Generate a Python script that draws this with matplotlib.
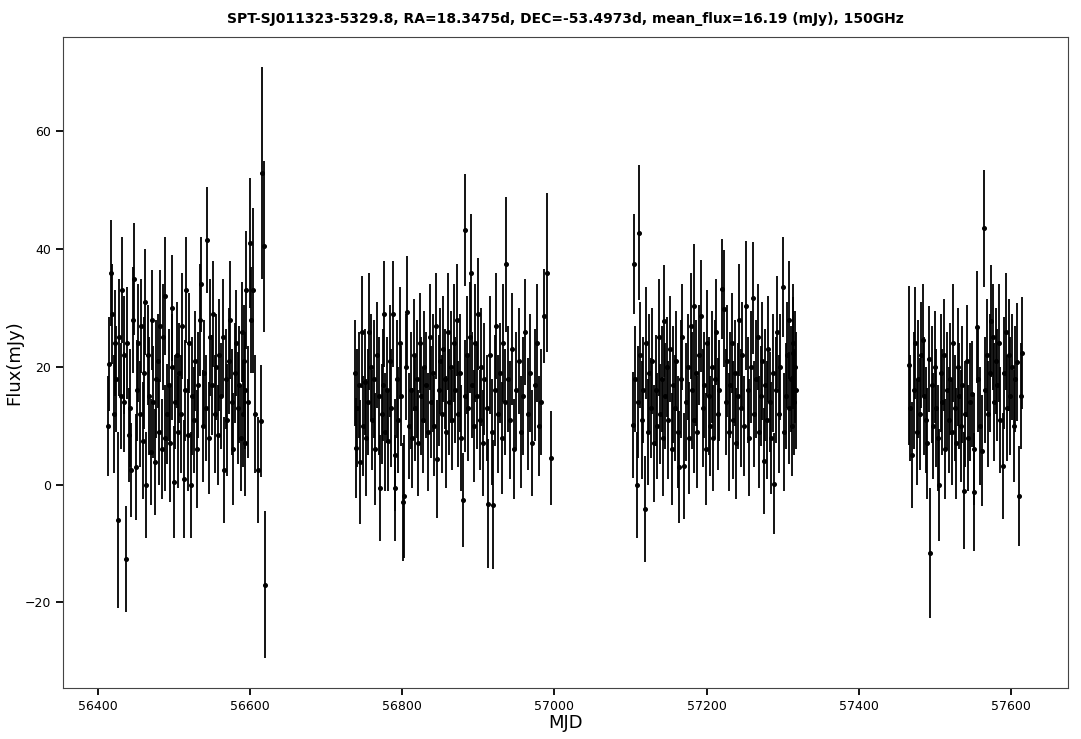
import matplotlib
matplotlib.use('Agg')
import matplotlib.pyplot as plt
import numpy as np

# season 1
mjd1 = [56414, 56415, 56417, 56419, 56421, 56423, 56424, 56426, 56428, 56430,
        56432, 56434, 56435, 56437, 56439, 56441, 56443, 56444, 56446, 56448,
        56450, 56452, 56453, 56455, 56457, 56459, 56461, 56462, 56464, 56466,
        56468, 56470, 56471, 56473, 56475, 56477, 56479, 56480, 56482, 56484,
        56486, 56488, 56489, 56491, 56493, 56495, 56497, 56498, 56500, 56502,
        56504, 56506, 56507, 56509, 56511, 56513, 56515, 56516, 56518, 56520,
        56522, 56524, 56526, 56528, 56530, 56532, 56534, 56536, 56538, 56540,
        56542, 56544, 56546, 56548, 56550, 56552, 56554, 56556, 56558, 56560,
        56562, 56564, 56566, 56568, 56570, 56572, 56574, 56576, 56578, 56580,
        56582, 56584, 56586, 56588, 56589, 56591, 56592, 56593, 56594, 56595,
        56597, 56600, 56602, 56604, 56607, 56611, 56614, 56616, 56618, 56620]
flux1 = [10, 20.5, 36, 29, 12, 24, 18, -6, 25, 15,
         33, 22, 14, -12.6, 24, 8.5, 13, 2.5, 28, 35,
         3, 16, 24, 12, 27, 7.5, 19, 31, 0, 22,
         15, 5.5, 28, 14, 3.8, 18, 21, 9, 27, 6,
         25, 32, 8, 12, 17, 7, 20, 30, 0.5, 14,
         22, 9, 19, 12, 27, 1, 16, 33, 8.5, 24,
         0, 15, 11, 21, 6, 17, 28, 34, 10, 19,
         13, 41.5, 8, 25, 17, 29, 12, 20, 8.5, 22,
         15, 25, 2.5, 18, 11, 21, 28, 14, 6, 19,
         24, 13, 17, 8, 26, 12, 21, 16, 7, 33,
         14, 41, 28, 33, 12, 2.5, 10.8, 53, 40.5, -17]
err1 = [8.5, 8, 9, 8.5, 10, 9, 9, 15, 10, 9,
        9, 10, 8.5, 9, 9.5, 8, 10, 8, 9, 9.5,
        9, 8.5, 10, 9, 8, 10, 9.5, 9, 9, 8.5,
        10, 9, 8.5, 9.5, 9, 10, 8, 9, 9.5, 8.5,
        9, 10, 9, 8.5, 9.5, 10, 9, 9, 9.5, 8,
        9, 9.5, 8.5, 10, 9, 10, 8.5, 9, 9.5, 8.5,
        9, 10, 9, 8.5, 10, 9, 9.5, 8, 9.5, 9,
        9, 9, 9.5, 10, 8.5, 9, 10, 9, 8.5, 9.5,
        9, 10, 9, 8.5, 9.5, 9, 10, 9, 9.5, 8.5,
        9, 9.5, 10, 9, 8.5, 9, 9.5, 10, 9, 10,
        9.5, 11, 9, 14, 10, 9, 9.5, 18, 14.5, 12.5]

# season 2
mjd2 = [56738, 56739, 56741, 56743, 56745, 56747, 56749, 56751, 56753, 56755,
        56757, 56759, 56761, 56763, 56765, 56767, 56769, 56771, 56773, 56775,
        56776, 56778, 56780, 56782, 56784, 56786, 56788, 56790, 56791, 56793,
        56795, 56797, 56799, 56801, 56803, 56805, 56807, 56809, 56811, 56813,
        56815, 56817, 56819, 56821, 56823, 56825, 56827, 56829, 56831, 56834,
        56836, 56838, 56840, 56842, 56844, 56846, 56848, 56850, 56852, 56854,
        56856, 56858, 56860, 56862, 56864, 56866, 56868, 56870, 56872, 56874,
        56876, 56878, 56880, 56882, 56883, 56885, 56887, 56889, 56890, 56892,
        56894, 56896, 56898, 56900, 56902, 56904, 56906, 56908, 56911, 56913,
        56915, 56918, 56920, 56922, 56924, 56926, 56929, 56931, 56933, 56935,
        56937, 56939, 56942, 56944, 56947, 56950, 56953, 56956, 56959, 56962,
        56965, 56968, 56971, 56974, 56977, 56980, 56983, 56986, 56990, 56996]
flux2 = [19, 6.3, 13, 17, 3.8, 26, 10, 17.5, 8, 14,
         26, 20, 11, 18, 6, 22, 15, -0.5, 12, 17,
         29, 9, 16, 7.5, 21, 13, 29, 5, -0.5, 18,
         11, 24, 15, -2.9, -2, 20, 29.4, 10, 16, 8,
         22, 13, 18, 7, 24, 15, 11, 20, 17, 8.9,
         25, 14, 19, 10, 27, 4.3, 16, 21, 12, 23,
         18, 9, 26, 14, 20, 11, 24, 16, 28, 12,
         19, 8, -2.6, 15, 43.3, 22, 13, 25, 36, 17,
         10, 24, 15, 29, 11, 20, 7, 18, 13, -3.2,
         22, 9, -3.4, 16, 27, 12, 19, 8, 24, 14,
         37.4, 18, 11, 23, 6, 16, 21, 9, 15, 26,
         12, 19, 7, 17, 24, 10, 14, 28.7, 36, 4.5]
err2 = [9, 8.5, 10, 9, 10.5, 9.5, 8.5, 9, 10, 9,
        10, 9, 8.5, 10, 9.5, 9, 10, 9, 8.5, 9.5,
        9, 10, 9, 8.5, 9.5, 10, 9, 9.5, 9, 10,
        9, 9.5, 8.5, 10, 10.5, 9, 9.5, 9, 10, 8.5,
        9.5, 9, 10, 9, 8.5, 10, 9, 9.5, 9, 10,
        9, 9.5, 10, 8.5, 9, 10, 9.5, 9, 10, 9,
        8.5, 9.5, 10, 9, 9.5, 8.5, 10, 9, 9.5, 9,
        10, 9, 8, 9.5, 9.5, 10, 9, 9.5, 10, 9,
        9.5, 10, 9, 9.5, 8.5, 10, 9, 9.5, 9, 11,
        10, 9, 11, 9.5, 9, 10, 8.5, 9.5, 10, 9,
        11.5, 9, 10, 9.5, 8.5, 10, 9, 9.5, 10, 9,
        9.5, 10, 9, 9.5, 10, 8.5, 9, 8, 13.5, 8]

# season 3
mjd3 = [57103, 57105, 57106, 57108, 57110, 57111, 57113, 57115, 57117, 57119,
        57121, 57123, 57125, 57127, 57129, 57131, 57133, 57135, 57137, 57139,
        57141, 57143, 57144, 57146, 57148, 57150, 57152, 57154, 57156, 57158,
        57160, 57162, 57164, 57166, 57168, 57171, 57173, 57175, 57177, 57179,
        57181, 57183, 57184, 57186, 57188, 57190, 57193, 57195, 57197, 57199,
        57201, 57203, 57205, 57207, 57209, 57211, 57213, 57215, 57217, 57220,
        57223, 57225, 57227, 57229, 57231, 57233, 57235, 57237, 57239, 57241,
        57243, 57245, 57247, 57249, 57252, 57254, 57256, 57258, 57261, 57263,
        57265, 57267, 57269, 57271, 57273, 57275, 57277, 57279, 57281, 57283,
        57285, 57287, 57289, 57291, 57293, 57295, 57297, 57300, 57302, 57304,
        57306, 57308, 57309, 57311, 57312, 57313, 57314, 57315, 57316, 57317]
flux3 = [10.2, 37.4, 18, 0, 14, 42.8, 22, 11, 16, -4.2,
         24, 9, 19, 13, 21, 7, 16, 10, 25, 12,
         18, 8, 27.8, 15, 20, 11, 23, 6, 17, 13,
         21, 9, 3, 18, 25, 3.2, 14, 20, 8, 27,
         16, 11, 30.4, 19, 9, 22, 28.7, 13, 17, 6,
         24, 15, 10, 20, 8, 18, 26, 12, 16, 33.3,
         29.9, 14, 21, 9, 17, 24, 11, 19, 7, 15,
         28, 13, 22, 10, 30.4, 16, 8, 20, 31.7, 12,
         18, 25, 9, 15, 21, 4, 17, 11, 23, 14,
         8, 19, 0.2, 16, 26, 12, 20, 33.5, 9, 15,
         22, 13, 28, 18, 10, 24, 22.4, 14, 20, 16]
err3 = [9, 8.5, 9, 9, 9.5, 11.5, 9, 10, 9, 9,
        9.5, 9, 10, 8.5, 9, 10, 9.5, 9, 10, 8.5,
        9, 10, 9.5, 9, 8.5, 10, 9, 9.5, 10, 9,
        8.5, 9.5, 9.5, 10, 9, 9, 10, 9, 9.5, 9,
        10, 9, 10.5, 9, 9.5, 8.5, 9.5, 10, 9, 9.5,
        9, 10, 8.5, 9.5, 9, 10, 9, 9.5, 8.5, 8.5,
        10, 9, 9.5, 10, 9, 8.5, 10, 9, 9.5, 9,
        9.5, 10, 9, 8.5, 11, 9, 10, 9.5, 9.5, 9,
        10, 9, 9.5, 8.5, 10, 9, 9.5, 10, 9, 8.5,
        9.5, 10, 8.5, 9, 9.5, 10, 9, 8.5, 10, 9,
        9, 9.5, 10, 9, 8.5, 10, 9.5, 9, 9.5, 10]

# season 4
mjd4 = [57466, 57468, 57470, 57472, 57474, 57476, 57478, 57480, 57482, 57484,
        57486, 57488, 57490, 57492, 57494, 57496, 57498, 57500, 57502, 57504,
        57506, 57508, 57510, 57512, 57514, 57516, 57518, 57520, 57522, 57524,
        57526, 57528, 57530, 57532, 57534, 57536, 57538, 57540, 57542, 57544,
        57546, 57549, 57551, 57552, 57555, 57557, 57559, 57562, 57564, 57566,
        57568, 57570, 57572, 57574, 57576, 57578, 57580, 57582, 57584, 57586,
        57589, 57591, 57593, 57595, 57597, 57599, 57601, 57604, 57606, 57608,
        57611, 57613, 57615]
flux4 = [20.3, 13, 5.1, 16, 24, 9, 18, 12, 22, 24.6,
         15, 11, 7, 21.3, -11.6, 17, 10, 20, 13, 8,
         0, 19, 14, 22, 6, 16, 11, 18, 9, 24,
         13, 7, 20, 15, 10, 17, -1, 12, 21, 8,
         14, 15.4, 6, -1.3, 26.8, 18, 10, 5.8, 43.5, 16,
         22, 12, 19, 27.8, 25, 14, 21, 17, 24, 11,
         3.1, 19, 26, 13, 22, 15, 20, 10, 18, 20.8,
         -1.9, 15, 22.4]
err4 = [13.5, 9, 9, 10, 9.5, 9, 10, 9.5, 9, 9.5,
        10, 9, 9.5, 9, 11, 10, 9, 9.5, 10, 9,
        9.5, 10, 9, 9.5, 8.5, 10, 9, 9.5, 9, 10,
        9, 9.5, 10, 9, 9.5, 10, 10, 9, 9.5, 9,
        10, 9, 9.5, 10, 9.5, 9, 10, 9.5, 10, 9,
        9.5, 9, 10, 9.5, 9, 10, 9, 9.5, 10, 9,
        9, 9.5, 10, 9, 9.5, 10, 9, 9.5, 9, 10,
        8.5, 9, 9.5]

title = 'SPT-SJ011323-5329.8, RA=18.3475d, DEC=-53.4973d, mean_flux=16.19 (mJy), 150GHz'

mjd = np.concatenate([mjd1, mjd2, mjd3, mjd4])
flux = np.concatenate([flux1, flux2, flux3, flux4])
err = np.concatenate([err1, err2, err3, err4])

fig = plt.figure(figsize=(10.81, 7.39), dpi=100)
ax = fig.add_axes([0.058, 0.069, 0.93, 0.881])
ax.errorbar(mjd, flux, yerr=err, fmt='o', color='black', ecolor='black',
            markersize=2.6, elinewidth=1.3)
ax.set_title(title, fontsize=10, fontweight='bold', pad=10)
ax.set_xlabel('MJD', fontsize=13, labelpad=1)
ax.set_ylabel('Flux(mJy)', fontsize=13, labelpad=1)
ax.tick_params(labelsize=9, length=5, width=1.3)
for s in ax.spines.values():
    s.set_color('#444444')
plt.savefig('out.png', dpi=100)
